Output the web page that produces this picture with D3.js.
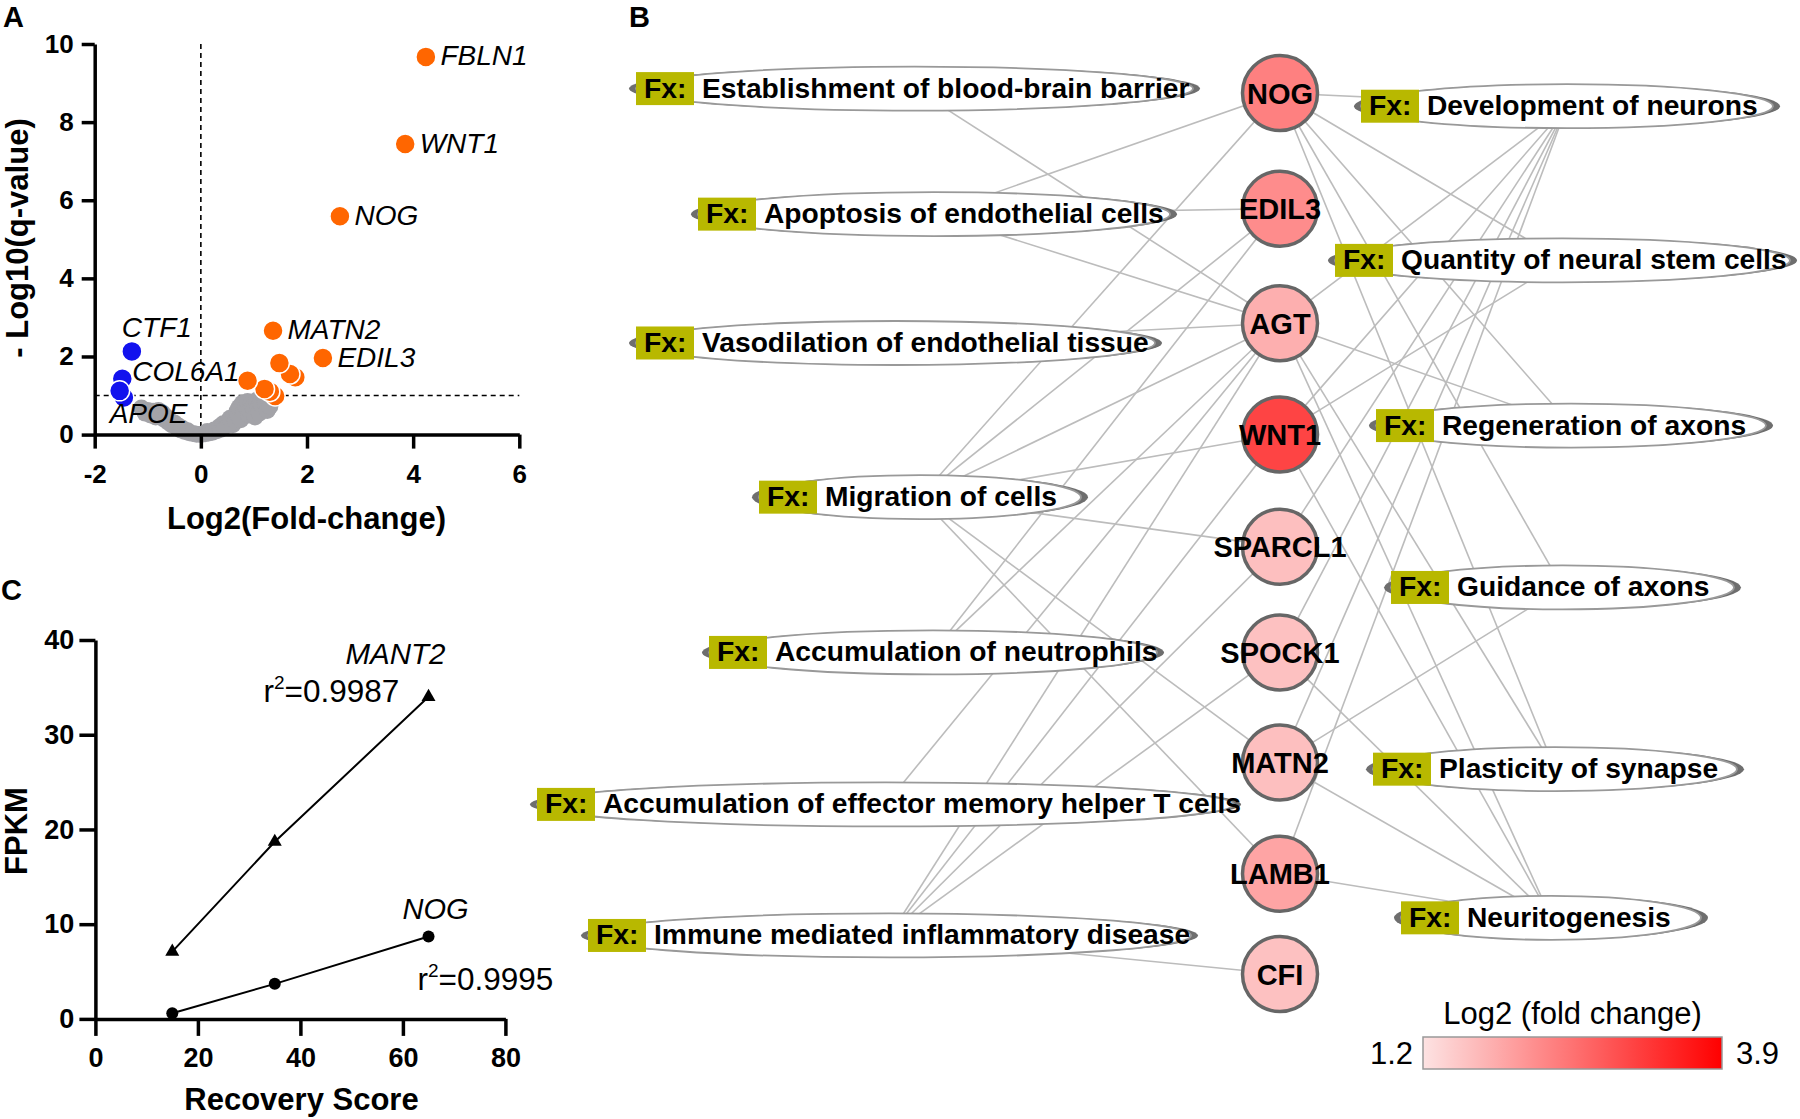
<!DOCTYPE html>
<html>
<head>
<meta charset="utf-8">
<script src="https://cdn.jsdelivr.net/npm/d3@7"></script>
<style>
  body { margin: 0; background: #fff; }
  svg { display: block; }
</style>
</head>
<body>
<div id="art"></div>
<script>
// ---------- Panel A : volcano plot ----------
const upLabels = ["FBLN1", "WNT1", "NOG", "MATN2", "EDIL3", null, null, null, null, null, null, null];
const upFC     = [4.24, 3.85, 2.62, 1.36, 2.30, 1.48, 1.68, 1.78, 0.88, 1.20, 1.30, 1.40];
const upQ      = [9.67, 7.44, 5.59, 2.66, 1.96, 1.83, 1.55, 1.47, 1.38, 1.17, 1.10, 0.99];

const downLabels = [null, "CTF1", "COL6A1", "APOE"];
const downFC     = [-1.45, -1.30, -1.48, -1.53];
const downQ      = [0.95, 2.13, 1.43, 1.12];

const nsFC = [-1.12, -1.05, -1.0, -0.95, -0.9, -0.8, -0.78, -0.72, -0.85, -0.7, -0.65, -0.62, -0.6, -0.55,
              -0.5, -0.45, -0.42, -0.38, -0.35, -0.3, -0.25, -0.22, -0.15, -0.08, 0.0, 0.08, 0.12, 0.15,
              0.22, 0.25, 0.3, 0.35, 0.38, 0.42, 0.45, 0.5, 0.52, 0.55, 0.6, 0.62, 0.65, 0.68, 0.7, 0.72,
              0.75, 0.78, 0.8, 0.85, 0.88, 0.9, 0.92, 0.95, 0.98, 1.0, 1.02, 1.05, 1.08, 1.1, 1.12, 1.15,
              1.18, 1.2, 1.22, 1.25, 1.28, 1.3];
const nsQ  = [0.68, 0.55, 0.62, 0.5, 0.6, 0.62, 0.5, 0.55, 0.45, 0.4, 0.45, 0.32, 0.38, 0.25,
              0.3, 0.18, 0.22, 0.12, 0.16, 0.08, 0.1, 0.05, 0.03, 0.01, 0.0, 0.02, 0.08, 0.04,
              0.06, 0.12, 0.1, 0.2, 0.14, 0.28, 0.2, 0.3, 0.35, 0.42, 0.25, 0.45, 0.35, 0.6, 0.5, 0.7,
              0.38, 0.8, 0.6, 0.72, 0.85, 0.5, 0.62, 0.8, 0.72, 0.65, 0.45, 0.88, 0.7, 0.55, 0.82, 0.75,
              0.98, 0.9, 0.8, 0.62, 0.85, 0.72];

const volcanoXTicks = [-2, 0, 2, 4, 6];
const volcanoYTicks = [0, 2, 4, 6, 8, 10];
const qThreshold = 1;

// ---------- Panel C : FPKM vs recovery score ----------
const recoveryScore = [15, 35, 65];
const fpkmMANT2 = [7.1, 18.7, 34.0];
const fpkmNOG   = [0.6, 3.7, 8.7];
const r2MANT2 = "0.9987";
const r2NOG   = "0.9995";
const recXTicks = [0, 20, 40, 60, 80];
const recYTicks = [0, 10, 20, 30, 40];

// ---------- Panel B : network ----------
const genes      = ["NOG", "EDIL3", "AGT", "WNT1", "SPARCL1", "SPOCK1", "MATN2", "LAMB1", "CFI"];
const geneLog2FC = [2.38, 2.24, 1.82, 3.09, 1.63, 1.60, 1.63, 1.95, 1.60];

const fxLeft = ["Establishment of blood-brain barrier", "Apoptosis of endothelial cells",
  "Vasodilation of endothelial tissue", "Migration of cells", "Accumulation of neutrophils",
  "Accumulation of effector memory helper T cells", "Immune mediated inflammatory disease"];
const fxLeftGenes = [["AGT"], ["NOG", "EDIL3", "AGT"], ["AGT"],
  ["NOG", "EDIL3", "AGT", "WNT1", "SPARCL1", "MATN2", "LAMB1"], ["EDIL3", "AGT"], ["AGT"],
  ["AGT", "WNT1", "SPARCL1", "SPOCK1", "CFI"]];

const fxRight = ["Development of neurons", "Quantity of neural stem cells", "Regeneration of axons",
  "Guidance of axons", "Plasticity of synapse", "Neuritogenesis"];
const fxRightGenes = [["NOG", "AGT", "WNT1", "SPARCL1", "SPOCK1", "MATN2", "LAMB1"], ["NOG", "WNT1"],
  ["NOG", "AGT"], ["NOG", "MATN2"], ["NOG", "AGT"], ["AGT", "WNT1", "SPOCK1", "MATN2", "LAMB1"]];

const legendDomain = [1.2, 3.9];

// network layout (left tip, right tip, row) - drawing layout only
const geneRows = [0, 1.05, 2.09, 3.1, 4.12, 5.08, 6.08, 7.09, 8];
const fxLeftLayout  = [[629, 1200, -0.04], [691, 1177, 1.10], [629, 1162, 2.27], [752, 1088, 3.67],
                       [702, 1164, 5.08], [530, 1241, 6.46], [581, 1198, 7.65]];
const fxRightLayout = [[1354, 1780, 0.12], [1328, 1797, 1.52], [1369, 1773, 3.02], [1384, 1741, 4.49],
                       [1366, 1744, 6.14], [1394, 1708, 7.49]];

const FONT = '"Liberation Sans", Arial, Helvetica, sans-serif';

function styleAxis(g, fs) {
  g.attr("font-family", FONT).attr("font-size", fs).attr("font-weight", "bold");
  g.select(".domain").attr("stroke", "#000").attr("stroke-width", 3.5);
  g.selectAll(".tick line").attr("stroke", "#000").attr("stroke-width", 3.5);
  g.selectAll(".tick text").attr("fill", "#000");
}

function art() {
  const svg = d3.select("#art").append("svg")
    .attr("width", 1800).attr("height", 1119)
    .style("background", "#fff")
    .attr("font-family", FONT);

  // panel letters
  [["A", 3, 27], ["B", 629, 27], ["C", 1, 600]].forEach(p => {
    svg.append("text").attr("x", p[1]).attr("y", p[2]).text(p[0])
      .attr("font-size", 29).attr("font-weight", "bold");
  });

  // ================= Panel A =================
  const xA = d3.scaleLinear().domain([-2, 6]).range([94.7, 519.3]);
  const yA = d3.scaleLinear().domain([0, 10]).range([434.6, 44]);
  const gA = svg.append("g");

  gA.append("line").attr("x1", xA(0)).attr("x2", xA(0)).attr("y1", yA(10)).attr("y2", yA(0))
    .attr("stroke", "#000").attr("stroke-width", 1.6).attr("stroke-dasharray", "5,4");
  gA.append("line").attr("x1", xA(-2)).attr("x2", xA(6)).attr("y1", yA(qThreshold)).attr("y2", yA(qThreshold))
    .attr("stroke", "#000").attr("stroke-width", 1.6).attr("stroke-dasharray", "5,4");

  const ns = nsFC.map((d, i) => ({ x: d, y: nsQ[i] }));
  gA.selectAll("circle.ns").data(ns).enter().append("circle")
    .attr("class", "ns")
    .attr("cx", d => xA(d.x)).attr("cy", d => yA(d.y)).attr("r", 8.5)
    .attr("fill", "#a3a3a8");

  const up = upFC.map((d, i) => ({ x: d, y: upQ[i], label: upLabels[i] }));
  gA.selectAll("circle.up").data(up.slice().reverse()).enter().append("circle")
    .attr("class", "up")
    .attr("cx", d => xA(d.x)).attr("cy", d => yA(d.y)).attr("r", 10)
    .attr("fill", "#ff6600").attr("stroke", "#fff").attr("stroke-width", 1.5);

  const down = downFC.map((d, i) => ({ x: d, y: downQ[i], label: downLabels[i] }));
  gA.selectAll("circle.down").data(down).enter().append("circle")
    .attr("class", "down")
    .attr("cx", d => xA(d.x)).attr("cy", d => yA(d.y)).attr("r", 10)
    .attr("fill", "#1212ee").attr("stroke", "#fff").attr("stroke-width", 1.5);

  // gene labels (offsets from their point)
  const labelOffset = { CTF1: [-10, -14], COL6A1: [10, 2], APOE: [-10, 32] };
  gA.selectAll("text.glab").data(up.concat(down).filter(d => d.label)).enter().append("text")
    .attr("class", "glab")
    .attr("x", d => xA(d.x) + (labelOffset[d.label] ? labelOffset[d.label][0] : 14.5))
    .attr("y", d => yA(d.y) + (labelOffset[d.label] ? labelOffset[d.label][1] : 8.6))
    .attr("font-size", 28).attr("font-style", "italic")
    .text(d => d.label);

  gA.append("g").attr("transform", `translate(${xA(-2)},0)`)
    .call(d3.axisLeft(yA).tickValues(volcanoYTicks).tickSize(13).tickPadding(8).tickSizeOuter(0))
    .call(g => styleAxis(g, 26));
  gA.append("g").attr("transform", `translate(0,${yA(0)})`)
    .call(d3.axisBottom(xA).tickValues(volcanoXTicks).tickFormat(d => String(d))
      .tickSize(14).tickPadding(16).tickSizeOuter(0))
    .call(g => styleAxis(g, 26));

  gA.append("text").attr("x", 306.5).attr("y", 529).attr("text-anchor", "middle")
    .attr("font-size", 31).attr("font-weight", "bold").text("Log2(Fold-change)");
  gA.append("text").attr("transform", "translate(28,238) rotate(-90)").attr("text-anchor", "middle")
    .attr("font-size", 31).attr("font-weight", "bold").text("- Log10(q-value)");

  // ================= Panel C =================
  const xC = d3.scaleLinear().domain([0, 80]).range([95.4, 505.4]);
  const yC = d3.scaleLinear().domain([0, 40]).range([1018.9, 640]);
  const gC = svg.append("g");

  const line = d3.line().x(d => xC(d[0])).y(d => yC(d[1]));
  const mant = recoveryScore.map((d, i) => [d, fpkmMANT2[i]]);
  const nog = recoveryScore.map((d, i) => [d, fpkmNOG[i]]);

  gC.append("path").datum(mant).attr("d", line).attr("fill", "none").attr("stroke", "#000").attr("stroke-width", 2);
  gC.append("path").datum(nog).attr("d", line).attr("fill", "none").attr("stroke", "#000").attr("stroke-width", 2);

  gC.selectAll("path.tri").data(mant).enter().append("path")
    .attr("class", "tri")
    .attr("transform", d => `translate(${xC(d[0])},${yC(d[1])})`)
    .attr("d", d3.symbol().type(d3.symbolTriangle).size(85));
  gC.selectAll("circle.dot").data(nog).enter().append("circle")
    .attr("class", "dot")
    .attr("cx", d => xC(d[0])).attr("cy", d => yC(d[1])).attr("r", 6);

  gC.append("g").attr("transform", `translate(${xC(0)},0)`)
    .call(d3.axisLeft(yC).tickValues(recYTicks).tickSize(16).tickPadding(5).tickSizeOuter(0))
    .call(g => styleAxis(g, 27));
  gC.append("g").attr("transform", `translate(0,${yC(0)})`)
    .call(d3.axisBottom(xC).tickValues(recXTicks).tickSize(17).tickPadding(12).tickSizeOuter(0))
    .call(g => styleAxis(g, 27));

  gC.append("text").attr("x", 301.5).attr("y", 1110).attr("text-anchor", "middle")
    .attr("font-size", 31).attr("font-weight", "bold").text("Recovery Score");
  gC.append("text").attr("transform", "translate(27,831) rotate(-90)").attr("text-anchor", "middle")
    .attr("font-size", 31).attr("font-weight", "bold").text("FPKM");

  const lastM = mant[mant.length - 1], lastN = nog[nog.length - 1];
  gC.append("text").attr("x", xC(lastM[0]) + 17).attr("y", yC(lastM[1]) - 33).attr("text-anchor", "end")
    .attr("font-size", 29.5).attr("font-style", "italic").text("MANT2");
  gC.append("text").attr("x", xC(lastN[0]) - 26).attr("y", yC(lastN[1]) - 17)
    .attr("font-size", 29).attr("font-style", "italic").text("NOG");

  function r2Text(x, y, val) {
    const t = gC.append("text").attr("x", x).attr("y", y).attr("font-size", 31.5);
    t.append("tspan").text("r");
    t.append("tspan").attr("font-size", 19).attr("dy", -13).text("2");
    t.append("tspan").attr("dy", 13).text("=" + val);
  }
  r2Text(xC(lastM[0]) - 165, yC(lastM[1]) + 5, r2MANT2);
  r2Text(xC(lastN[0]) - 11, yC(lastN[1]) + 54, r2NOG);

  // ================= Panel B =================
  const rowY = d3.scaleLinear().domain([0, 8]).range([93, 974]);
  const geneX = 1280;
  const geneColor = d3.scaleLinear().domain(legendDomain).range(["#fde3e3", "#ff0000"]);

  const geneNodes = genes.map((g, i) => ({ name: g, fc: geneLog2FC[i], x: geneX, y: rowY(geneRows[i]) }));
  const geneByName = {};
  geneNodes.forEach(n => geneByName[n.name] = n);

  const fxNodes = fxLeft.map((f, i) => ({ name: f, targets: fxLeftGenes[i], lay: fxLeftLayout[i] }))
    .concat(fxRight.map((f, i) => ({ name: f, targets: fxRightGenes[i], lay: fxRightLayout[i] })));
  fxNodes.forEach(n => {
    n.x0 = n.lay[0]; n.x1 = n.lay[1];
    n.cx = (n.x0 + n.x1) / 2; n.cy = rowY(n.lay[2]);
    n.rx = (n.x1 - n.x0) / 2;
  });

  const edges = [];
  fxNodes.forEach(f => f.targets.forEach(g => edges.push({ f: f, g: geneByName[g] })));

  const gB = svg.append("g");
  gB.selectAll("line.edge").data(edges).enter().append("line")
    .attr("class", "edge")
    .attr("x1", d => d.f.cx).attr("y1", d => d.f.cy)
    .attr("x2", d => d.g.x).attr("y2", d => d.g.y)
    .attr("stroke", "#bcbcbc").attr("stroke-width", 1.6);

  const fxG = gB.selectAll("g.fx").data(fxNodes).enter().append("g").attr("class", "fx");
  fxG.append("ellipse")
    .attr("cx", d => d.cx).attr("cy", d => d.cy).attr("rx", d => d.rx).attr("ry", 22)
    .attr("fill", "#6e6e6e");
  fxG.append("ellipse")
    .attr("cx", d => d.cx).attr("cy", d => d.cy).attr("rx", d => d.rx - 7).attr("ry", 22)
    .attr("fill", "#fff").attr("stroke", "#999").attr("stroke-width", 1.8);
  fxG.append("rect")
    .attr("x", d => d.x0 + 7).attr("y", d => d.cy - 16.5).attr("width", 58).attr("height", 33)
    .attr("fill", "#b8b800");
  fxG.append("text")
    .attr("transform", d => `translate(${d.x0 + 15},${d.cy + 9}) scale(1.05,1)`)
    .attr("font-size", 27).attr("font-weight", "bold").text("Fx:");
  fxG.append("text")
    .attr("transform", d => `translate(${d.x0 + 73},${d.cy + 9}) scale(1.045,1)`)
    .attr("font-size", 27).attr("font-weight", "bold").text(d => d.name);

  const geneG = gB.selectAll("g.gene").data(geneNodes).enter().append("g").attr("class", "gene");
  geneG.append("circle")
    .attr("cx", d => d.x).attr("cy", d => d.y).attr("r", 37.5)
    .attr("fill", d => geneColor(d.fc)).attr("stroke", "#666").attr("stroke-width", 3.5);
  geneG.append("text")
    .attr("x", d => d.x).attr("y", d => d.y + 10.5).attr("text-anchor", "middle")
    .attr("font-size", 29).attr("font-weight", "bold").text(d => d.name);

  // legend
  const defs = svg.append("defs");
  const grad = defs.append("linearGradient").attr("id", "fcGrad");
  d3.range(0, 1.0001, 0.1).forEach(t => {
    grad.append("stop").attr("offset", t).attr("stop-color",
      geneColor(legendDomain[0] + t * (legendDomain[1] - legendDomain[0])));
  });
  const lx0 = 1423, lx1 = 1722, ly0 = 1037, lh = 32;
  svg.append("rect").attr("x", lx0).attr("y", ly0).attr("width", lx1 - lx0).attr("height", lh)
    .attr("fill", "url(#fcGrad)").attr("stroke", "#999").attr("stroke-width", 1.5);
  svg.append("text").attr("x", (lx0 + lx1) / 2).attr("y", 1024).attr("text-anchor", "middle")
    .attr("font-size", 31).text("Log2 (fold change)");
  svg.append("text").attr("x", lx0 - 10).attr("y", ly0 + 27).attr("text-anchor", "end")
    .attr("font-size", 31).text(legendDomain[0].toFixed(1));
  svg.append("text").attr("x", lx1 + 14).attr("y", ly0 + 27)
    .attr("font-size", 31).text(legendDomain[1].toFixed(1));
}

window.onload = function () {
  art();
};
</script>
</body>
</html>
